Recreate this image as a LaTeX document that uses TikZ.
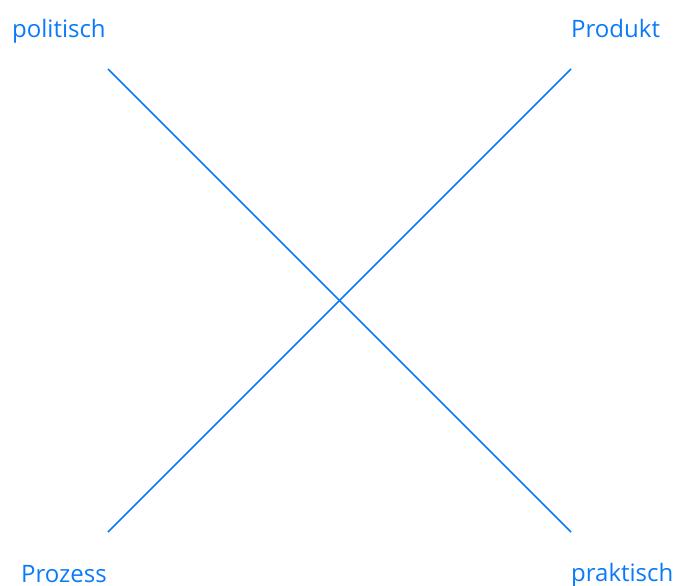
\documentclass[tikz,border=0pt]{standalone}
\usepackage{fontspec}
\setmainfont{Open Sans}
\definecolor{iosblue}{RGB}{10,122,250}
\begin{document}
\begin{tikzpicture}[x=1pt,y=-1pt,
  lbl/.style={text=iosblue,font=\fontsize{24}{28}\selectfont,inner sep=0pt},
  ln/.style={draw=iosblue,line width=1.6pt}]
\useasboundingbox (0,0) rectangle (678,586);
\coordinate (tl) at (108,69);
\coordinate (br) at (571,532);
\coordinate (bl) at (108,532);
\coordinate (tr) at (571,69);
\draw[ln] (tl) -- (br);
\draw[ln] (bl) -- (tr);
\node[lbl,anchor=base west] (pol) at (12,38) {politisch};
\node[lbl,anchor=base west] (pro) at (571,38) {Produkt};
\node[lbl,anchor=base east] (proz) at (107,582) {Prozess};
\node[lbl,anchor=base west] (prak) at (571,581) {praktisch};
\end{tikzpicture}
\end{document}
